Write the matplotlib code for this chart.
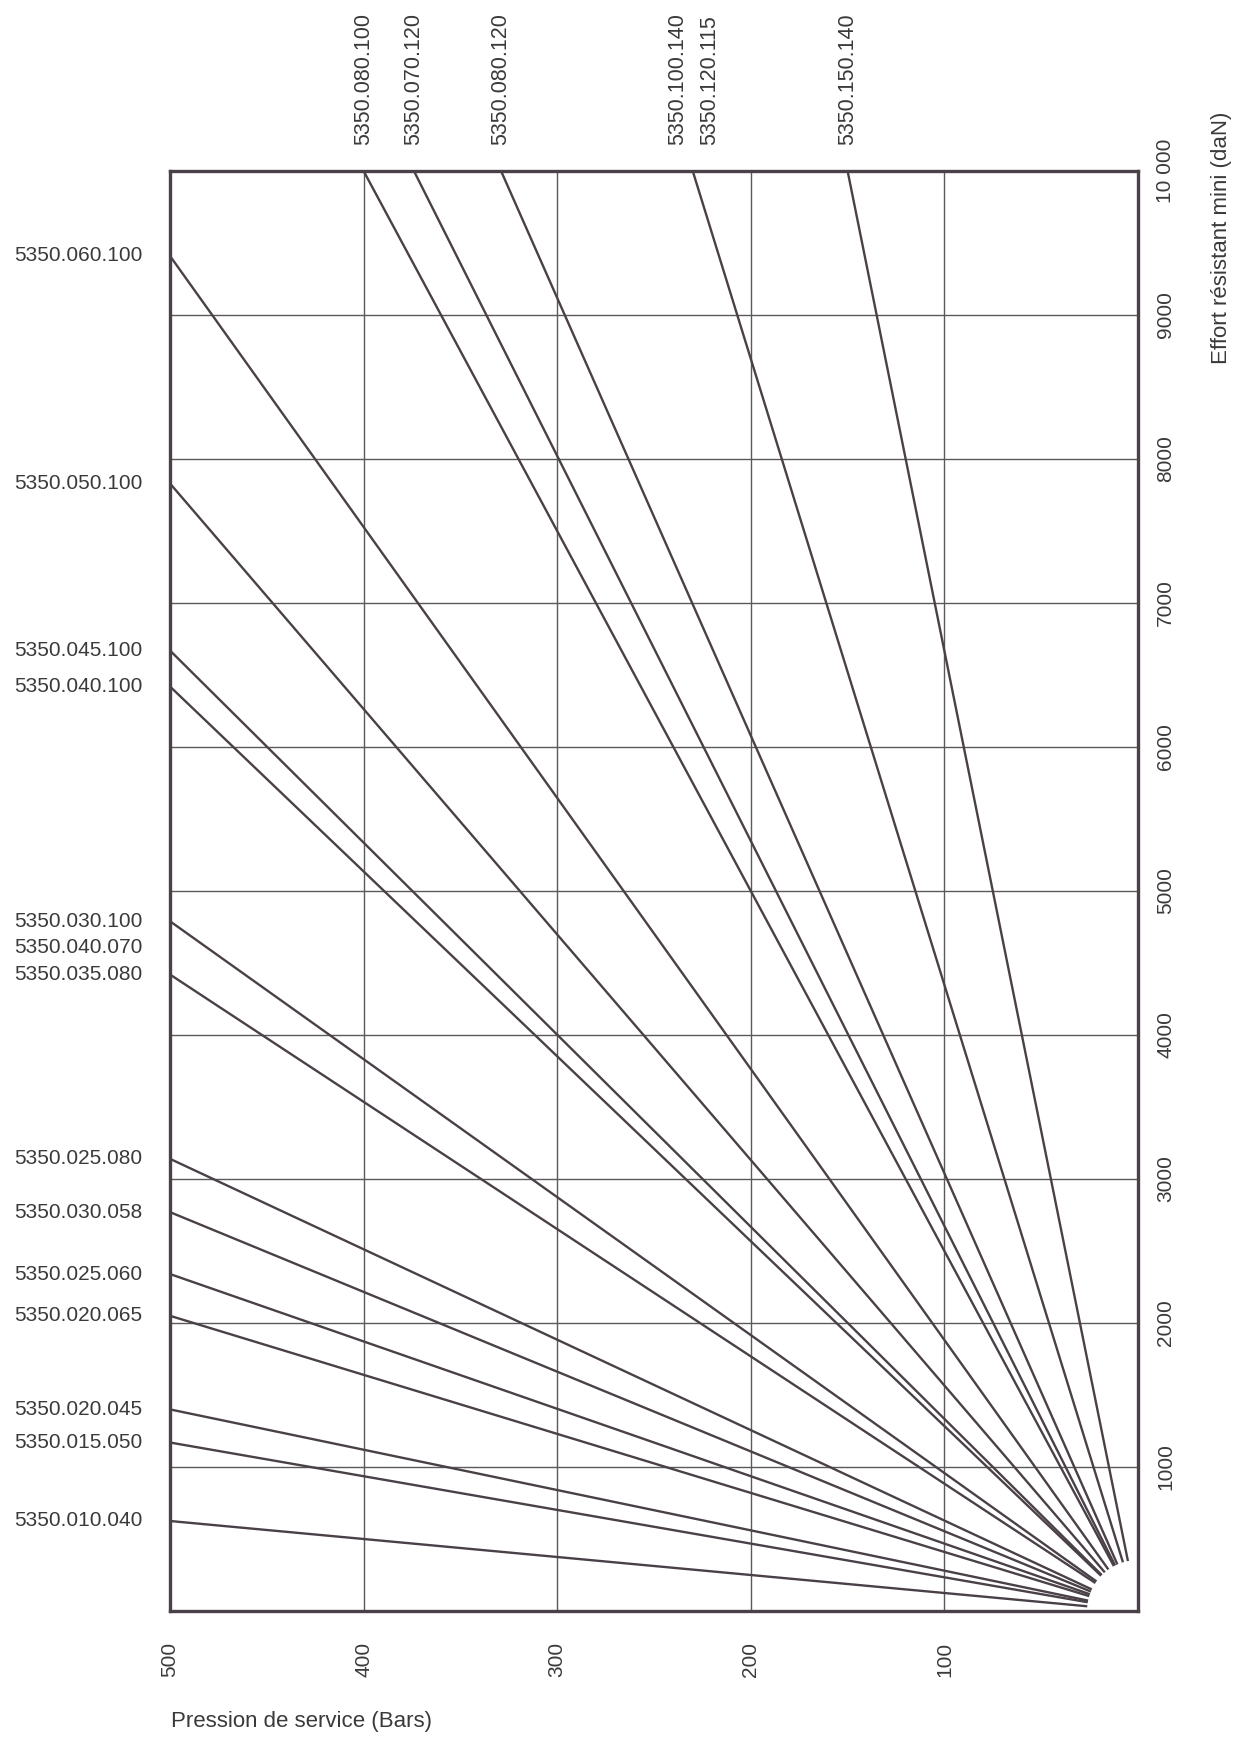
import numpy as np
import matplotlib.pyplot as plt
from matplotlib.patches import Ellipse

plt.rcParams['font.family'] = ['Liberation Sans', 'DejaVu Sans']

# pression (bars) et effort (daN)
pressure_ticks = [500, 400, 300, 200, 100]
force_ticks = [1000, 2000, 3000, 4000, 5000, 6000, 7000, 8000, 9000, 10000]
force_tick_labels = ['1000', '2000', '3000', '4000', '5000', '6000', '7000', '8000', '9000', '10 000']

# droites qui sortent par le bord gauche (effort a 500 bars)
force_at_500 = [9410, 7830, 6670, 6420, 4790, 4420, 3140, 2770, 2340, 2050, 1400, 1170, 625]
# droites qui sortent par le haut (pression a 10 000 daN)
pressure_at_10000 = [400, 374, 329, 230, 150]

left_labels = ['5350.060.100', '5350.050.100', '5350.045.100', '5350.040.100',
               '5350.030.100', '5350.040.070', '5350.035.080', '5350.025.080',
               '5350.030.058', '5350.025.060', '5350.020.065', '5350.020.045',
               '5350.015.050', '5350.010.040']
left_label_force = [9410, 7830, 6670, 6420, 4790, 4610, 4420, 3140, 2770, 2340, 2050, 1400, 1170, 625]

top_labels = ['5350.080.100', '5350.070.120', '5350.080.120', '5350.100.140',
              '5350.120.115', '5350.150.140']
top_label_pressure = [400, 374, 329, 238, 221, 150]

ink = '#4a4048'
txt = '#3a3a3a'

fig = plt.figure(figsize=(12.4, 17.41), dpi=100)
ax = fig.add_axes([170 / 1240, 1 - 1611 / 1741, 968 / 1240, 1440 / 1741])
ax.set_xlim(500, 0)
ax.set_ylim(0, 10000)

# grille
for p in [100, 200, 300, 400]:
    ax.axvline(p, color='#5a5a5a', lw=1.0, zorder=1)
for f in force_ticks[:-1]:
    ax.axhline(f, color='#5a5a5a', lw=1.0, zorder=1)

# droites
for f in force_at_500:
    ax.plot([0, 500], [0, f], color=ink, lw=1.7, zorder=2)
for p in pressure_at_10000:
    ax.plot([0, p], [0, 10000], color=ink, lw=1.7, zorder=2)

# quart de cercle blanc a l'origine
ax.add_patch(Ellipse((0, 0), 2 * 51 / 1.936, 2 * 51 / 0.144, facecolor='white',
                     edgecolor='none', zorder=3))

for s in ax.spines.values():
    s.set_linewidth(2.4)
    s.set_color(ink)
    s.set_zorder(5)

ax.set_xticks(pressure_ticks)
ax.set_xticklabels([str(p) for p in pressure_ticks], rotation=90, fontsize=15, color=txt)
ax.tick_params(axis='x', length=0, pad=22)

ax.yaxis.tick_right()
ax.set_yticks(force_ticks)
ax.set_yticklabels(force_tick_labels, rotation=90, va='center', fontsize=15, color=txt)
ax.tick_params(axis='y', length=0, pad=13)

for name, f in zip(left_labels, left_label_force):
    ax.annotate(name, xy=(500, f), xytext=(-20, 0), textcoords='offset points',
                ha='right', va='center', fontsize=15, color=txt)

for name, p in zip(top_labels, top_label_pressure):
    ax.annotate(name, xy=(p, 10000), xytext=(0, 19), textcoords='offset points',
                ha='center', va='bottom', rotation=90, fontsize=15.5, color=txt)

fig.text(1222 / 1240, 1 - 238 / 1741, 'Effort résistant mini (daN)', rotation=90,
         ha='center', va='center', fontsize=16, color=txt)
fig.text(171 / 1240, 1 - 1722 / 1741, 'Pression de service (Bars)',
         ha='left', va='center', fontsize=16, color=txt)

fig.savefig('out.png', dpi=100, facecolor='white')
